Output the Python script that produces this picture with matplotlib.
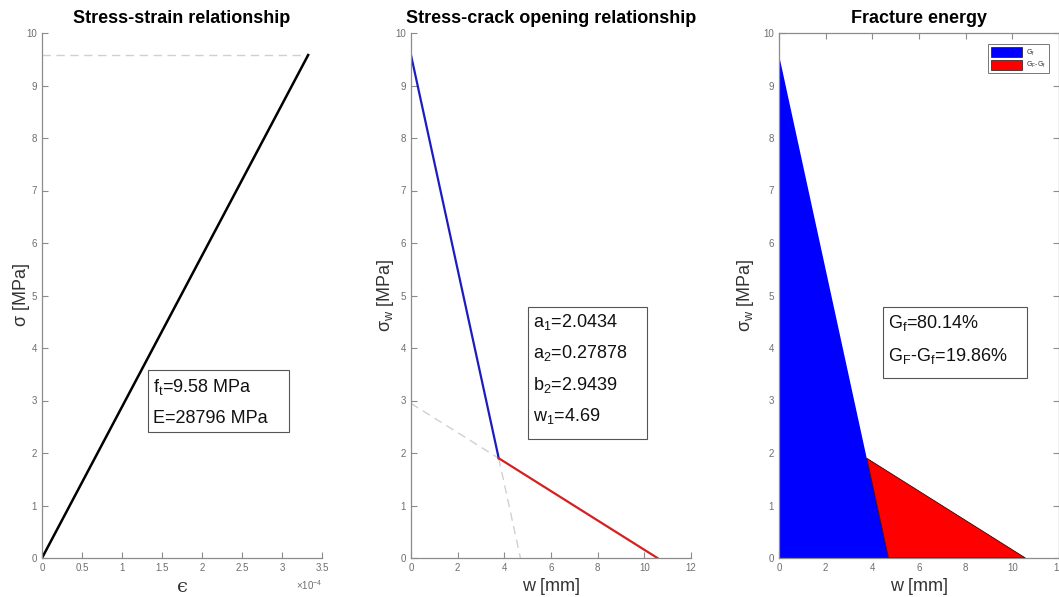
import matplotlib
matplotlib.use("Agg")
import matplotlib.pyplot as plt
from matplotlib.patches import Patch, Rectangle
from matplotlib.ticker import FuncFormatter

plt.rcParams['font.family'] = ['Liberation Sans', 'DejaVu Sans']
plt.rcParams['mathtext.fontset'] = 'custom'
plt.rcParams['mathtext.rm'] = 'Liberation Sans'
plt.rcParams['mathtext.it'] = 'Liberation Sans:italic'
plt.rcParams['mathtext.default'] = 'regular'

# ---- data ----
ft = 9.58           # MPa
E = 28796           # MPa
eps_pts = [0.0, ft / E]
sig_pts = [0.0, ft]

w_knee = 3.76
s_knee = 1.90
w1 = 4.69
w_end = 10.56
b2 = 2.9439
seg1_w = [0.0, w_knee]
seg1_s = [ft, s_knee]
seg2_w = [w_knee, w_end]
seg2_s = [s_knee, 0.0]
ext1_w = [0.0, w_knee]
ext1_s = [b2, s_knee]
ext2_w = [w_knee, w1]
ext2_s = [s_knee, 0.0]

Gf_pct = 80.14
GF_Gf_pct = 19.86
params = {'a1': 2.0434, 'a2': 0.27878, 'b2': 2.9439, 'w1': 4.69}

yticks = list(range(0, 11))

W, H = 1059, 597
fig = plt.figure(figsize=(W / 100, H / 100), dpi=100)

AX_TOP, AX_BOT = 33, 558

def ax_rect(x0, x1):
    return [x0 / W, 1 - AX_BOT / H, (x1 - x0) / W, (AX_BOT - AX_TOP) / H]

gray = '#8c8c8c'
tick_color = '#6e6e6e'
label_color = '#333333'

def style(ax, box=False):
    for s in ['left', 'bottom', 'top', 'right']:
        ax.spines[s].set_color(gray)
        ax.spines[s].set_linewidth(0.9)
    if not box:
        ax.spines['top'].set_visible(False)
        ax.spines['right'].set_visible(False)
    ax.tick_params(direction='in', length=4, width=0.8, colors=gray,
                   labelcolor=tick_color, labelsize=7, top=box, right=box)
    ax.set_yticks(yticks)
    ax.set_ylim(0, 10)

def ylab(ax, text, x0, xpix):
    ax.set_ylabel(text, fontsize=13, color=label_color)
    ax.yaxis.label.set_va('center')
    ax.yaxis.set_label_coords((xpix - x0) / 280.0, 0.5)

def textbox(ax, x0, box, lines, line_y):
    # box = (left, top, right, bottom) in pixels; lines centred at line_y pixels
    l, t, r, b = box
    fx = lambda px: (px - x0) / 280.0
    fy = lambda py: (AX_BOT - py) / (AX_BOT - AX_TOP)
    ax.add_patch(Rectangle((fx(l), fy(b)), fx(r) - fx(l), fy(t) - fy(b),
                           transform=ax.transAxes, fc='white', ec='#555555',
                           lw=0.8, zorder=5, clip_on=False))
    for s, yy in zip(lines, line_y):
        ax.text(fx(l + 5), fy(yy + 6), s, transform=ax.transAxes, fontsize=13,
                va='baseline', ha='left', zorder=6, color='#111111')

dash = dict(ls=(0, (6, 4)), color='#d0d0d0', lw=1.0)

# ---- panel 1 ----
X1 = 42
ax1 = fig.add_axes(ax_rect(X1, 322))
style(ax1)
ax1.plot([0, eps_pts[1]], [ft, ft], **dash)
ax1.plot(eps_pts, sig_pts, color='black', lw=1.8)
ax1.set_xlim(0, 3.5e-4)
ax1.set_xticks([i * 0.5e-4 for i in range(8)])
ax1.xaxis.set_major_formatter(FuncFormatter(lambda v, p: ('%g' % round(v * 1e4, 2))))
ax1.text(1.0, -0.038, r'$\times10^{-4}$', transform=ax1.transAxes, ha='right',
         va='top', fontsize=7, color=tick_color)
ax1.set_xlabel('\u03f5', fontsize=14, family='DejaVu Serif', color=label_color, labelpad=4)
ylab(ax1, r'$\sigma$ [MPa]', X1, 21)
ax1.set_title('Stress-strain relationship', fontsize=13, fontweight='bold', pad=7)
textbox(ax1, X1, (148, 370, 289, 432),
        ['f$_t$=%.2f MPa' % ft, 'E=%d MPa' % E], [386, 417])

# ---- panel 2 ----
X2 = 411
ax2 = fig.add_axes(ax_rect(X2, 691))
style(ax2)
ax2.plot(ext1_w, ext1_s, **dash)
ax2.plot(ext2_w, ext2_s, **dash)
ax2.plot(seg1_w, seg1_s, color='#1c1cc0', lw=1.6)
ax2.plot(seg2_w, seg2_s, color='#d42020', lw=1.6)
ax2.set_xlim(0, 12)
ax2.set_xticks(range(0, 13, 2))
ax2.set_xlabel('w [mm]', fontsize=13, color=label_color, labelpad=4)
ylab(ax2, r'$\sigma_w$ [MPa]', X2, 386)
ax2.set_title('Stress-crack opening relationship', fontsize=13, fontweight='bold', pad=7)
textbox(ax2, X2, (528, 307, 647, 439),
        ['a$_1$=%g' % params['a1'], 'a$_2$=%g' % params['a2'],
         'b$_2$=%g' % params['b2'], 'w$_1$=%g' % params['w1']],
        [321, 352, 384, 415])

# ---- panel 3 ----
X3 = 779
ax3 = fig.add_axes(ax_rect(X3, 1059))
style(ax3, box=True)
ax3.fill([0, 0, w_knee, w1], [0, ft, s_knee, 0], color='#0000ff', lw=0, zorder=2)
ax3.fill([w1, w_knee, w_end], [0, s_knee, 0], facecolor='#ff0000', edgecolor='#400000',
         lw=0.6, zorder=2)
ax3.set_xlim(0, 12)
ax3.set_xticks(range(0, 13, 2))
ax3.set_xlabel('w [mm]', fontsize=13, color=label_color, labelpad=4)
ylab(ax3, r'$\sigma_w$ [MPa]', X3, 745)
ax3.set_title('Fracture energy', fontsize=13, fontweight='bold', pad=7)
textbox(ax3, X3, (883, 307, 1027, 378),
        ['G$_f$=%.2f%%' % Gf_pct, 'G$_F$-G$_f$=%.2f%%' % GF_Gf_pct], [322, 355])
handles = [Patch(facecolor='#0000ff', edgecolor='#1a1a1a', lw=0.5, label='G$_f$'),
           Patch(facecolor='#ff0000', edgecolor='#1a1a1a', lw=0.5, label='G$_F$-G$_f$')]
leg = ax3.legend(handles=handles, loc='upper right', bbox_to_anchor=(0.975, 0.985),
                 fontsize=5, frameon=True, fancybox=False, edgecolor='#555555',
                 handlelength=4.5, handleheight=1.9, borderpad=0.4, labelspacing=0.3,
                 handletextpad=0.5)
leg.get_frame().set_linewidth(0.7)
for t in leg.get_texts():
    t.set_color(label_color)

fig.savefig('out.png', dpi=100)
